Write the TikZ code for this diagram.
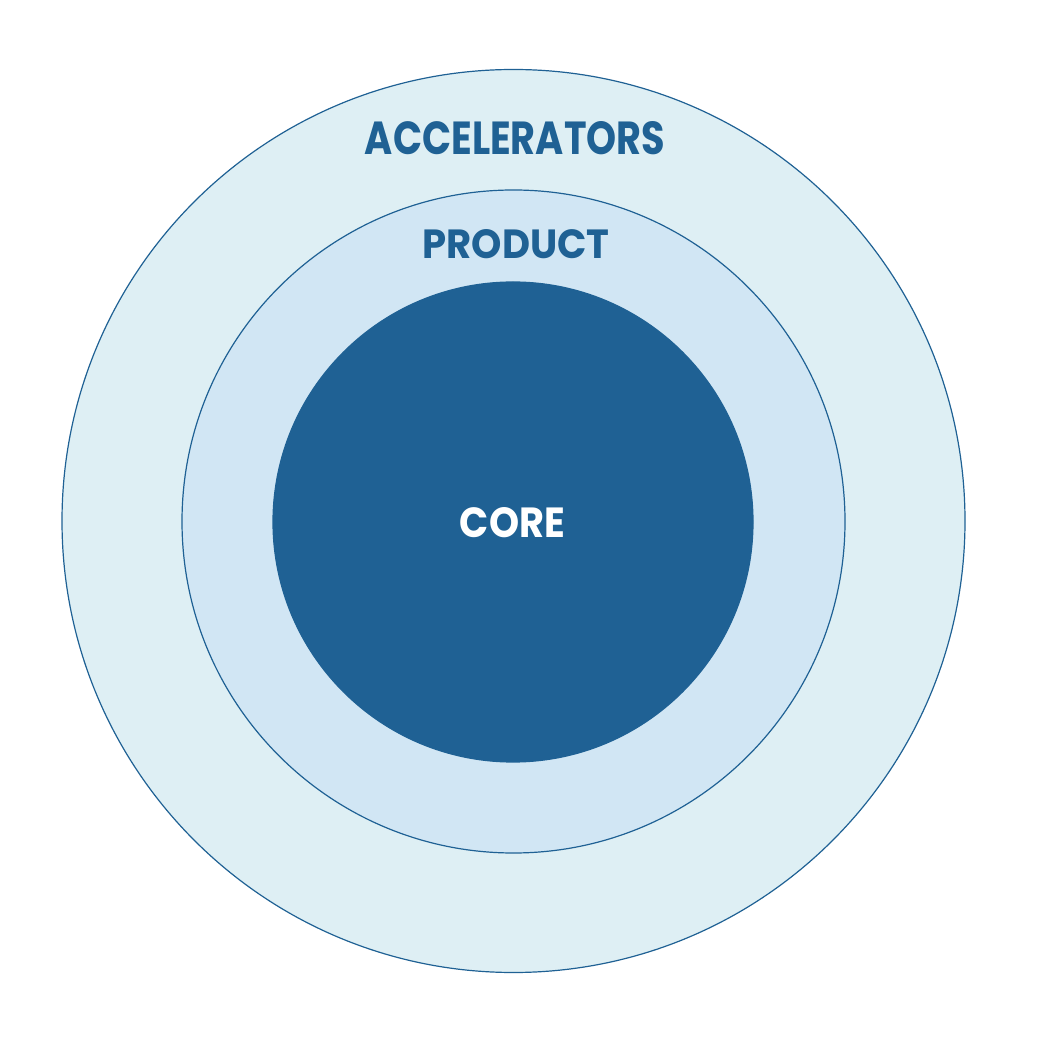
\documentclass[tikz,border=0pt]{standalone}
\usepackage{fontspec}
\setmainfont{Poppins}
\usepackage{graphicx}
\definecolor{outerfill}{HTML}{DEEFF4}
\definecolor{midfill}{HTML}{D1E6F4}
\definecolor{darkblue}{HTML}{1F6194}
\tikzset{
  ring/.style={circle, draw=darkblue, line width=1.2pt, inner sep=0pt},
  lbl/.style={inner sep=0pt, text=darkblue, font=\bfseries}
}
\begin{document}
\begin{tikzpicture}[x=1pt,y=1pt]
\useasboundingbox (0,0) rectangle (1054,1050);
\node[ring, fill=outerfill, minimum size=903pt] (outer) at (513.5,529) {};
\node[ring, fill=midfill, minimum size=663pt] (mid) at (513.5,528.5) {};
\node[ring, fill=darkblue, minimum size=480pt] (core) at (513,528) {};
\node[lbl] (acc) at (515,911.5) {\resizebox{300pt}{33pt}{ACCELERATORS}};
\node[lbl] (prod) at (516,805.5) {\resizebox{187pt}{29pt}{PRODUCT}};
\node[lbl, text=white] (corelbl) at (512.5,527) {\resizebox{105pt}{30pt}{CORE}};
\end{tikzpicture}
\end{document}
